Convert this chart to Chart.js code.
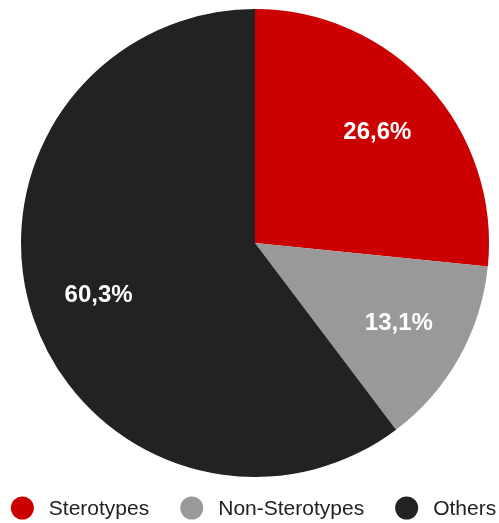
<!DOCTYPE html>
<html>
<head>
<meta charset="utf-8">
<script src="https://cdn.jsdelivr.net/npm/chart.js@4"></script>
<style>
  html, body { margin: 0; padding: 0; background: #fff; }
  #wrap { width: 499px; height: 523px; }
</style>
</head>
<body>
<div id="wrap"><canvas id="chart"></canvas></div>
<script>
const categories = ["Sterotypes", "Non-Sterotypes", "Others"];
const shares = [26.6, 13.1, 60.3];
const sliceLabels = ["26,6%", "13,1%", "60,3%"];
const colors = ["#cc0000", "#999999", "#222222"];

const FONT = "'Liberation Sans', Arial, sans-serif";

// percent text inside each slice
const sliceText = {
  id: "sliceText",
  afterDatasetsDraw(chart) {
    const ctx = chart.ctx;
    const meta = chart.getDatasetMeta(0);
    ctx.save();
    ctx.font = "bold 24px " + FONT;
    ctx.fillStyle = "#ffffff";
    ctx.textAlign = "center";
    ctx.textBaseline = "middle";
    meta.data.forEach((arc, i) => {
      const p = arc.getProps(["x", "y", "startAngle", "endAngle", "outerRadius"], true);
      const mid = (p.startAngle + p.endAngle) / 2;
      const r = p.outerRadius * 0.705;
      ctx.fillText(sliceLabels[i], p.x + Math.cos(mid) * r, p.y + Math.sin(mid) * r);
    });
    ctx.restore();
  },
};

// legend row under the pie
const bottomLegend = {
  id: "bottomLegend",
  afterDraw(chart) {
    const ctx = chart.ctx;
    const y = 508;
    const rad = 11.5, gapText = 15, gapItem = 31;
    ctx.save();
    ctx.font = "21px " + FONT;
    ctx.textBaseline = "middle";
    const widths = categories.map((c) => ctx.measureText(c).width);
    let total = widths.reduce((a, w) => a + rad * 2 + gapText + w, 0) + gapItem * (categories.length - 1);
    let x = 253.5 - total / 2;
    categories.forEach((c, i) => {
      ctx.beginPath();
      ctx.arc(x + rad, y, rad, 0, Math.PI * 2);
      ctx.fillStyle = colors[i];
      ctx.fill();
      ctx.fillStyle = "#222222";
      ctx.fillText(c, x + rad * 2 + gapText, y + 1);
      x += rad * 2 + gapText + widths[i] + gapItem;
    });
    ctx.restore();
  },
};

new Chart(document.getElementById("chart"), {
  type: "pie",
  data: {
    labels: categories,
    datasets: [
      {
        data: shares,
        backgroundColor: colors,
        borderWidth: 0,
      },
    ],
  },
  options: {
    responsive: true,
    maintainAspectRatio: false,
    animation: false,
    layout: { padding: { left: 21, right: 10, top: 0, bottom: 37 } },
    plugins: {
      legend: { display: false },
      tooltip: { enabled: false },
    },
  },
  plugins: [sliceText, bottomLegend],
});
</script>
</body>
</html>
